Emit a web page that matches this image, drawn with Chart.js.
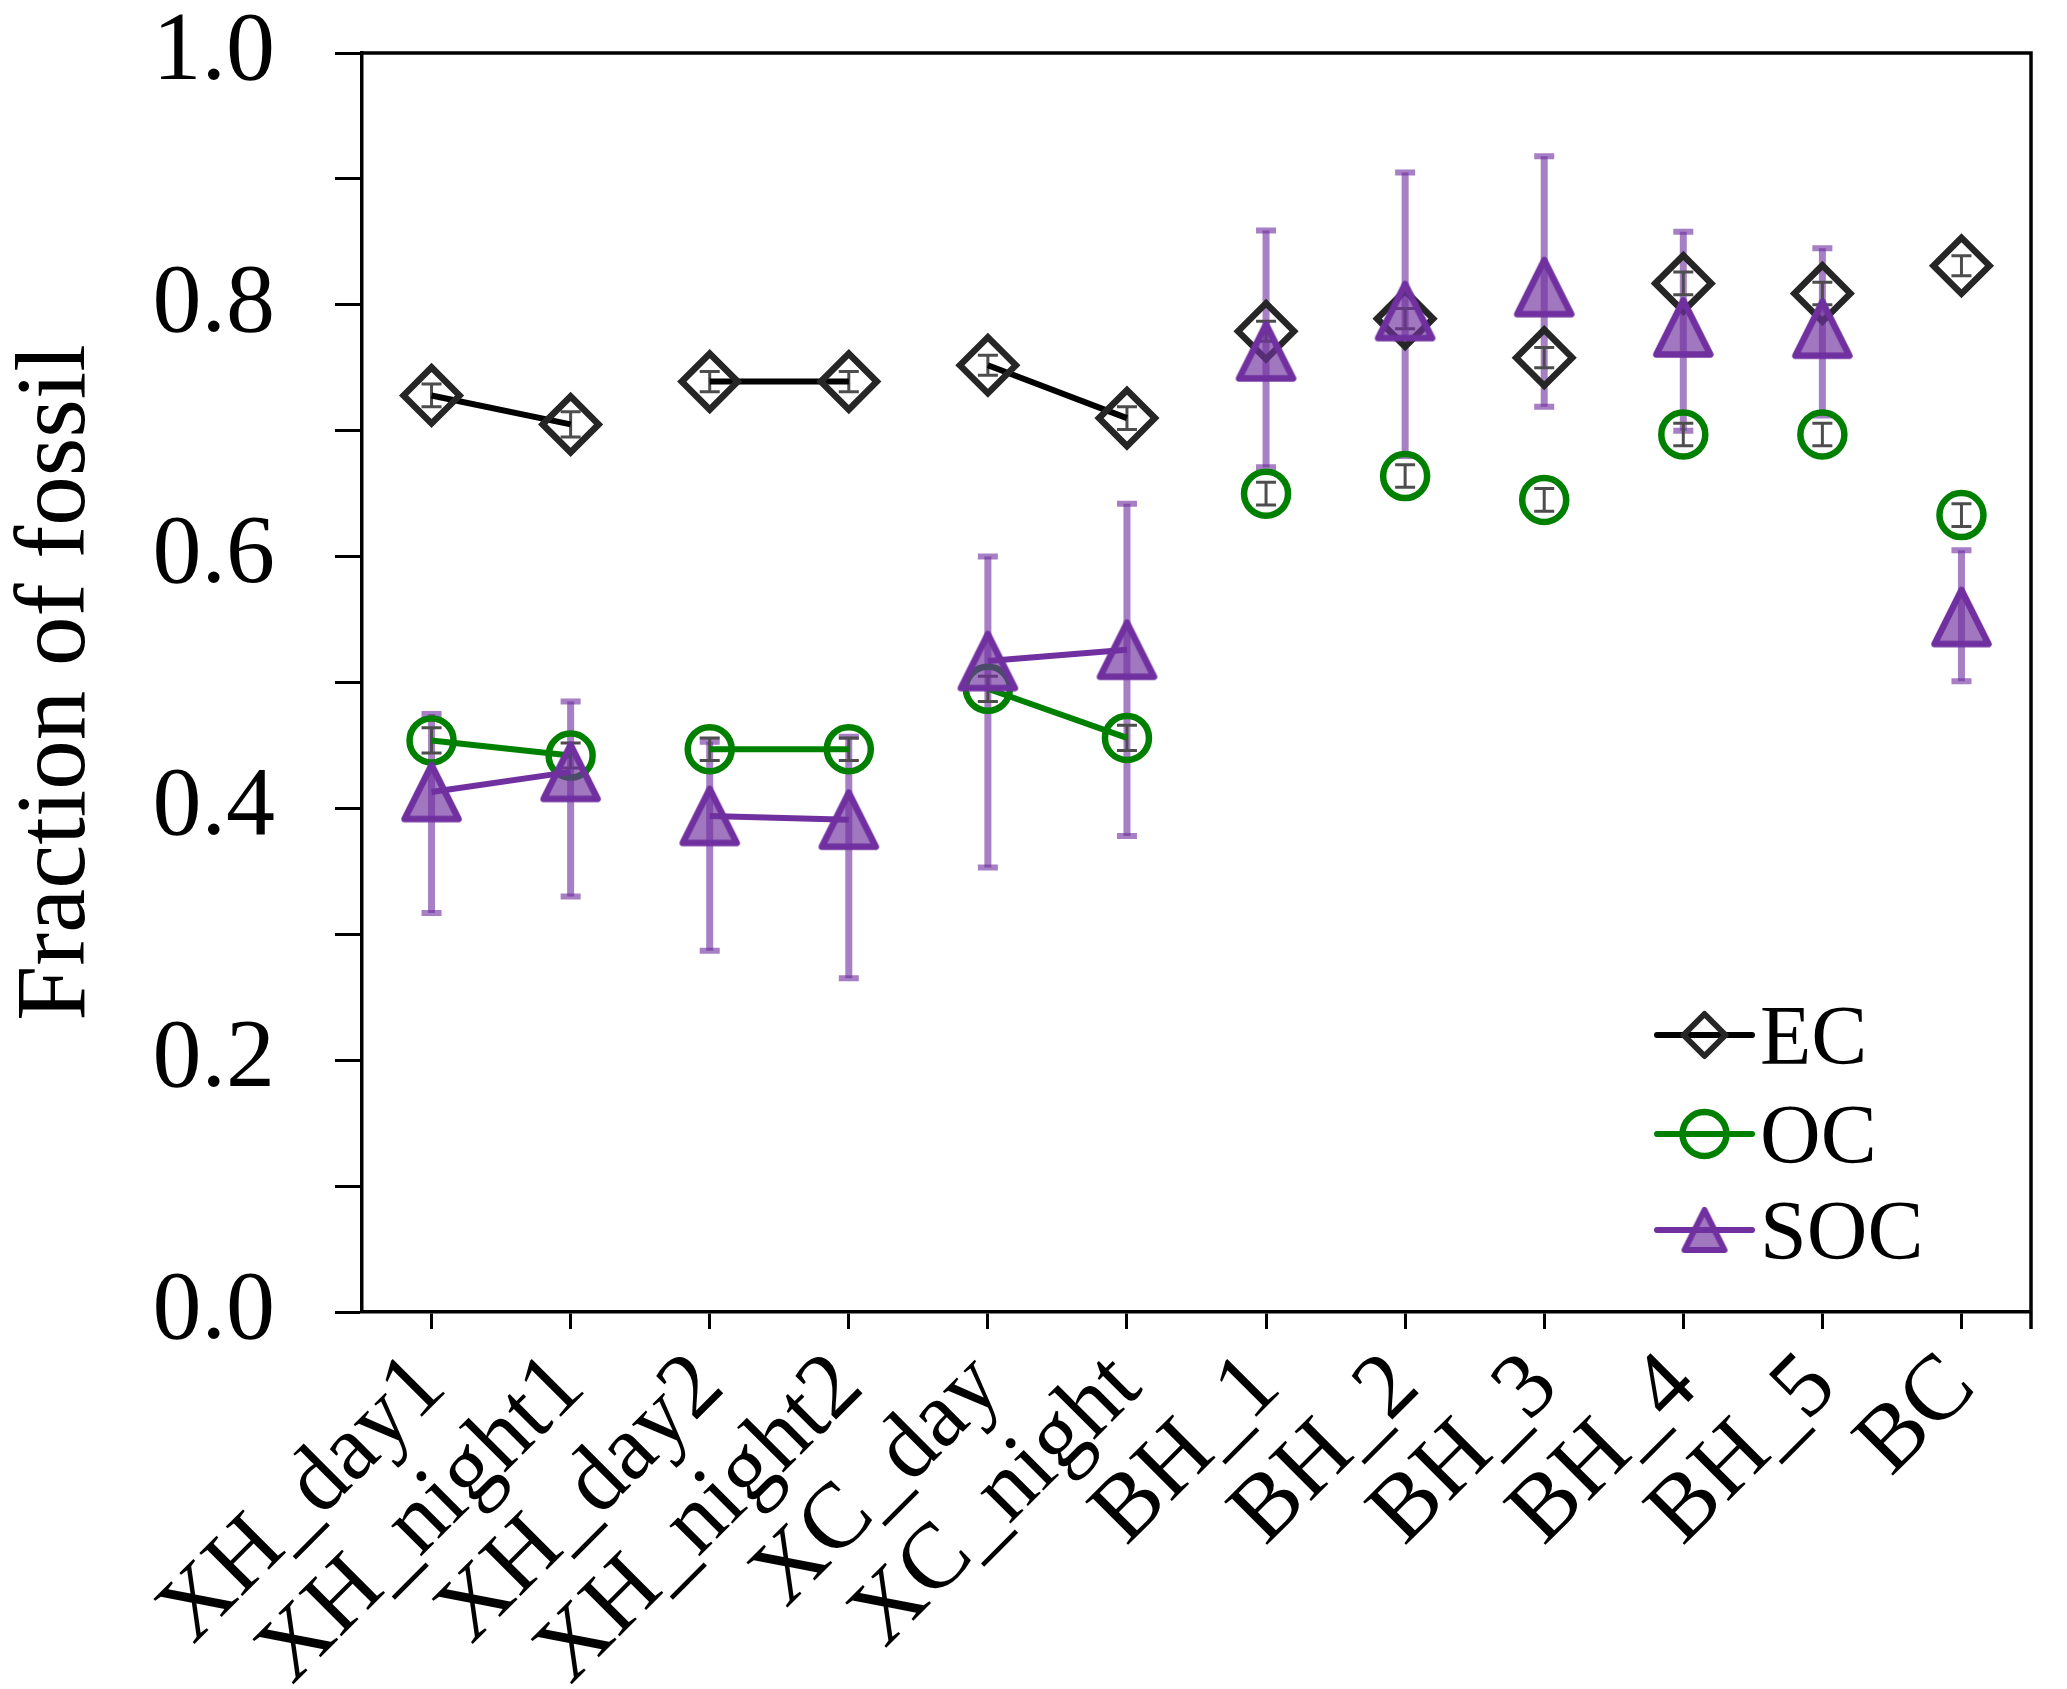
<!DOCTYPE html>
<html lang="en">
<head>
<meta charset="UTF-8"/>
<title>Fraction of fossil</title>
<script src="https://cdn.jsdelivr.net/npm/chart.js@4.4.1/dist/chart.umd.min.js"></script>
<style>
  html, body { margin: 0; padding: 0; background: #fff; }
  #wrap { width: 2067px; height: 1689px; }
</style>
</head>
<body>
<div id="wrap"><canvas id="chart"></canvas></div>
<script>
  // sample sites
  const categories = ['XH_day1', 'XH_night1', 'XH_day2', 'XH_night2', 'XC_day', 'XC_night',
                      'BH_1', 'BH_2', 'BH_3', 'BH_4', 'BH_5', 'BC'];
  // fraction of fossil
  const ec    = [0.728, 0.705, 0.739, 0.739, 0.752, 0.710, 0.779, 0.789, 0.758, 0.817, 0.809, 0.831];
  const ecErr = [0.009, 0.010, 0.008, 0.008, 0.008, 0.009, 0.008, 0.008, 0.008, 0.009, 0.009, 0.008];
  const oc    = [0.454, 0.442, 0.447, 0.447, 0.495, 0.456, 0.650, 0.664, 0.645, 0.697, 0.697, 0.633];
  const ocErr = [0.010, 0.010, 0.009, 0.009, 0.010, 0.010, 0.009, 0.009, 0.009, 0.009, 0.009, 0.009];
  const soc     = [0.413, 0.429, 0.394, 0.391, 0.517, 0.526, 0.763, 0.795, 0.814, 0.782, 0.781, 0.552];
  const socLow  = [0.317, 0.330, 0.287, 0.265, 0.353, 0.378, 0.671, 0.680, 0.719, 0.700, 0.712, 0.501];
  const socHigh = [0.475, 0.485, 0.453, 0.457, 0.600, 0.642, 0.859, 0.905, 0.918, 0.858, 0.845, 0.605];
  // day/night pairs joined by a line (index of first point of each pair)
  const joinedFrom = [0, 2, 4];
  const yTicks = [0, 0.2, 0.4, 0.6, 0.8, 1.0];

  const FONT = '"Liberation Serif", "Times New Roman", serif';
  const EC_COLOR = '#262626', OC_COLOR = '#008000', SOC_COLOR = '#7030a0';
  const SOC_FILL = 'rgba(112,48,160,0.66)', SOC_ERR = 'rgba(112,48,160,0.62)', ERR_GREY = '#4d4d4d';

  // matplotlib-like '^' marker: centred at mid height, as wide as tall
  function triangleMarker(half, lw) {
    const size = Math.ceil(2 * half + lw + 4);
    const c = document.createElement('canvas');
    c.width = c.height = size;
    const g = c.getContext('2d');
    const m = size / 2;
    g.beginPath();
    g.moveTo(m, m - half); g.lineTo(m + half, m + half); g.lineTo(m - half, m + half); g.closePath();
    g.fillStyle = SOC_FILL; g.fill();
    g.lineWidth = lw; g.lineJoin = 'round'; g.strokeStyle = SOC_COLOR; g.stroke();
    return c;
  }
  const socMarker = triangleMarker(27, 6.5);

  const joinSeg = color => ctx => joinedFrom.includes(ctx.p0DataIndex) ? color : 'transparent';

  const errorBars = {
    id: 'errorBars',
    beforeDatasetsDraw(chart) {
      const {ctx, scales: {x, y}} = chart;
      chart.data.datasets.forEach(ds => {
        ctx.save();
        ctx.strokeStyle = ds.errColor;
        ctx.lineCap = 'butt';
        ds.data.forEach((v, i) => {
          const px = x.getPixelForValue(i);
          const top = y.getPixelForValue(ds.errHigh[i]);
          const bot = y.getPixelForValue(ds.errLow[i]);
          ctx.lineWidth = ds.errWidth;
          ctx.beginPath(); ctx.moveTo(px, top); ctx.lineTo(px, bot); ctx.stroke();
          ctx.lineWidth = ds.capWidth;
          ctx.beginPath();
          ctx.moveTo(px - 10, top); ctx.lineTo(px + 10, top);
          ctx.moveTo(px - 10, bot); ctx.lineTo(px + 10, bot);
          ctx.stroke();
        });
        ctx.restore();
      });
    }
  };

  const frame = {
    id: 'frame',
    afterDraw(chart) {
      const {ctx, chartArea: a} = chart;
      ctx.save();
      ctx.strokeStyle = '#000'; ctx.lineWidth = 3.5;
      ctx.beginPath();
      ctx.moveTo(a.left - 1.5, a.top); ctx.lineTo(a.right, a.top); ctx.lineTo(a.right, a.bottom + 17);
      ctx.stroke();
      ctx.restore();
    }
  };

  const legendBox = {
    id: 'legendBox',
    afterDraw(chart) {
      const {ctx, chartArea: a} = chart;
      const x0 = a.right - 374, x1 = a.right - 279, xm = (x0 + x1) / 2;
      const rows = [
        {label: 'EC', line: '#000', dy: 277},
        {label: 'OC', line: OC_COLOR, dy: 178},
        {label: 'SOC', line: SOC_COLOR, dy: 82}
      ];
      ctx.save();
      rows.forEach((r, k) => {
        const yy = a.bottom - r.dy;
        ctx.strokeStyle = r.line; ctx.lineWidth = 6; ctx.lineCap = 'round';
        ctx.beginPath(); ctx.moveTo(x0, yy); ctx.lineTo(x1, yy); ctx.stroke();
        ctx.lineJoin = 'round';
        if (k === 0) {
          ctx.strokeStyle = EC_COLOR; ctx.lineWidth = 6;
          ctx.beginPath();
          ctx.moveTo(xm - 21, yy); ctx.lineTo(xm, yy - 21); ctx.lineTo(xm + 21, yy); ctx.lineTo(xm, yy + 21); ctx.closePath();
          ctx.stroke();
        } else if (k === 1) {
          ctx.strokeStyle = OC_COLOR; ctx.lineWidth = 6.5;
          ctx.beginPath(); ctx.arc(xm, yy, 22, 0, Math.PI * 2); ctx.stroke();
        } else {
          const t = triangleMarker(20, 6);
          ctx.drawImage(t, xm - t.width / 2, yy - t.height / 2);
        }
        ctx.fillStyle = '#000';
        ctx.font = '84px ' + FONT;
        ctx.textBaseline = 'alphabetic';
        ctx.textAlign = 'left';
        ctx.fillText(r.label, x1 + 8, yy + 29);
      });
      ctx.restore();
    }
  };

  new Chart(document.getElementById('chart'), {
    type: 'line',
    data: {
      labels: categories,
      datasets: [
        {
          label: 'SOC', data: soc, order: 0,
          borderColor: SOC_COLOR, borderWidth: 6,
          segment: {borderColor: joinSeg(SOC_COLOR)},
          pointStyle: socMarker, pointRadius: 30,
          errLow: socLow, errHigh: socHigh, errColor: SOC_ERR, errWidth: 7, capWidth: 6
        },
        {
          label: 'OC', data: oc, order: 1,
          borderColor: OC_COLOR, borderWidth: 6,
          segment: {borderColor: joinSeg(OC_COLOR)},
          pointStyle: 'circle', pointRadius: 22, pointBorderWidth: 6.5,
          pointBorderColor: OC_COLOR, pointBackgroundColor: 'transparent',
          errLow: oc.map((v, i) => v - ocErr[i]), errHigh: oc.map((v, i) => v + ocErr[i]),
          errColor: ERR_GREY, errWidth: 3, capWidth: 3
        },
        {
          label: 'EC', data: ec, order: 2,
          borderColor: '#000', borderWidth: 6,
          segment: {borderColor: joinSeg('#000')},
          pointStyle: 'rectRot', pointRadius: 28, pointBorderWidth: 6.5,
          pointBorderColor: EC_COLOR, pointBackgroundColor: 'transparent',
          errLow: ec.map((v, i) => v - ecErr[i]), errHigh: ec.map((v, i) => v + ecErr[i]),
          errColor: ERR_GREY, errWidth: 3, capWidth: 3
        }
      ]
    },
    options: {
      responsive: true,
      maintainAspectRatio: false,
      animation: false,
      devicePixelRatio: 1,
      layout: {padding: {top: 53, right: 21, left: 0, bottom: 0}},
      plugins: {legend: {display: false}, tooltip: {enabled: false}},
      scales: {
        x: {
          type: 'category',
          offset: true,
          grid: {drawOnChartArea: false, offset: false, tickLength: 17, tickWidth: 3, tickColor: '#000'},
          border: {color: '#000', width: 3.5},
          ticks: {color: '#000', font: {family: FONT, size: 93}, minRotation: 45, maxRotation: 45, autoSkip: false, padding: 4},
          afterFit: s => { s.height = 377; s.paddingLeft = 0; s.paddingRight = 0; }
        },
        y: {
          min: 0, max: 1,
          grid: {drawOnChartArea: false, tickLength: 27, tickWidth: 3, tickColor: '#000'},
          border: {color: '#000', width: 3.5},
          ticks: {
            stepSize: 0.1, autoSkip: false, color: '#000', padding: 60,
            font: {family: FONT, size: 98},
            callback: v => yTicks.some(t => Math.abs(t - v) < 1e-6) ? v.toFixed(1) : ''
          },
          title: {display: true, text: 'Fraction of fossil', color: '#000',
                  font: {family: FONT, size: 99, lineHeight: 1}, padding: {top: 8, bottom: 0}},
          afterFit: s => { s.width = 362; s.paddingTop = 0; s.paddingBottom = 0; }
        }
      }
    },
    plugins: [errorBars, frame, legendBox]
  });
</script>
</body>
</html>
